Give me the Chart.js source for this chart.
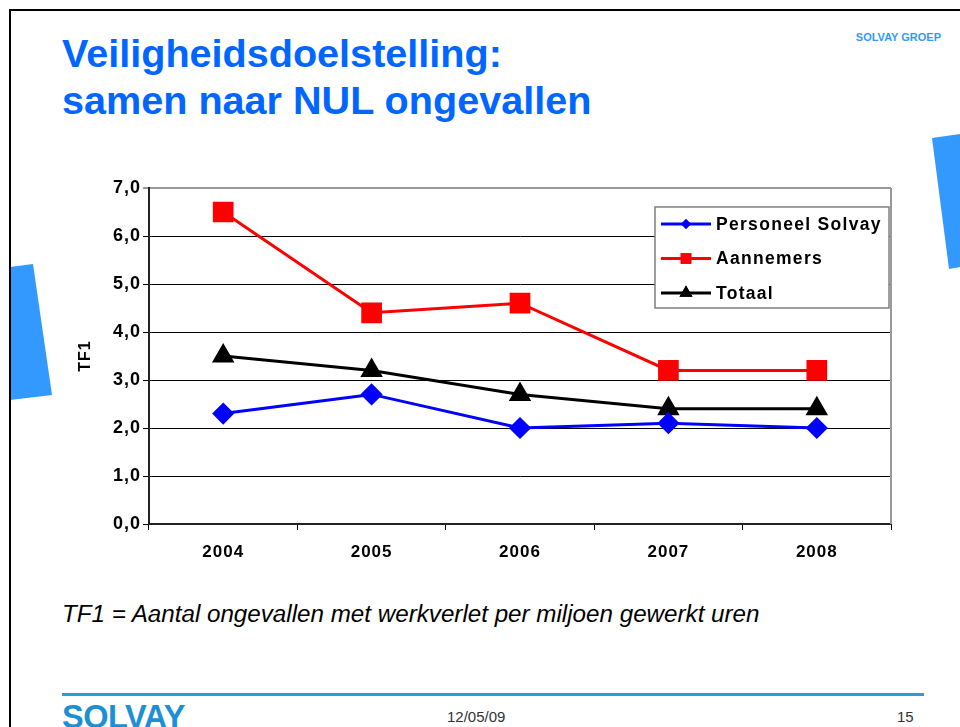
<!DOCTYPE html>
<html>
<head>
<meta charset="utf-8">
<script src="https://cdn.jsdelivr.net/npm/chart.js@4/dist/chart.umd.min.js"></script>
<style>
  html, body { margin: 0; padding: 0; background: #fff; }
  #page { position: relative; width: 960px; height: 727px; overflow: hidden; font-family: "Liberation Sans", Arial, sans-serif; }
  #page div { position: absolute; line-height: 1; white-space: nowrap; }
  #frameTop { left: 9px; top: 9px; width: 951px; height: 2px; background: #000; }
  #frameLeft { left: 9px; top: 9px; width: 2px; height: 718px; background: #000; }
  .title { left: 62px; font-size: 39.6px; font-weight: bold; color: #0066ff; }
  #groep { right: 19px; top: 32px; font-size: 11px; font-weight: bold; color: #3399ff; }
  #note { left: 62px; top: 602px; font-size: 24.2px; font-style: italic; color: #000; }
  #footLine { left: 62px; top: 693px; width: 862px; height: 3px; background: #2a9be0; }
  #logo { left: 62px; top: 701px; font-size: 32.5px; font-weight: bold; color: #1c8fd6; letter-spacing: -0.5px; }
  #date { left: 447px; top: 709px; font-size: 15px; color: #333; }
  #pnum { left: 897px; top: 709px; font-size: 15px; color: #333; }
  svg { position: absolute; left: 0; top: 0; }
  canvas { position: absolute; left: 0; top: 0; }
</style>
</head>
<body>
<div id="page">
  <svg width="960" height="727">
    <polygon points="932,138 960,134 960,267 949,269" fill="#3399ff"/>
    <polygon points="10,267 33,264 52,395 10,400" fill="#3399ff"/>
  </svg>
  <div id="frameTop"></div>
  <div id="frameLeft"></div>
  <div class="title" style="top:34px">Veiligheidsdoelstelling:</div>
  <div class="title" style="top:81px">samen naar NUL ongevallen</div>
  <div id="groep">SOLVAY GROEP</div>
  <div id="note">TF1 = Aantal ongevallen met werkverlet per miljoen gewerkt uren</div>
  <div id="footLine"></div>
  <div id="logo">SOLVAY</div>
  <div id="date">12/05/09</div>
  <div id="pnum">15</div>
  <canvas id="chart" width="960" height="727"></canvas>
</div>
<script>
// data
var years = ['2004', '2005', '2006', '2007', '2008'];
var personeelSolvay = [2.3, 2.7, 2.0, 2.1, 2.0];
var aannemers = [6.5, 4.4, 4.6, 3.2, 3.2];
var totaal = [3.5, 3.2, 2.7, 2.4, 2.4];
var yMin = 0, yMax = 7, yStep = 1;

var FONT = '"Liberation Sans", Arial, sans-serif';

// legend drawn inside the plot, boxed like the Excel one
var boxLegend = {
    id: 'boxLegend',
    afterDraw: function (chart) {
        var ctx = chart.ctx;
        var area = chart.chartArea;
        var x0 = area.right - 236, y0 = area.top + 19, w = 234, h = 101;
        ctx.save();
        ctx.letterSpacing = '1.3px';
        ctx.fillStyle = '#fff';
        ctx.fillRect(x0, y0, w, h);
        ctx.strokeStyle = '#808080';
        ctx.lineWidth = 1.5;
        ctx.strokeRect(x0, y0, w, h);
        var sizes = [5, 7.5, 7.5];
        chart.data.datasets.forEach(function (ds, i) {
            var y = y0 + 17 + i * 34.5;
            ctx.strokeStyle = ds.borderColor;
            ctx.lineWidth = 3;
            ctx.beginPath();
            ctx.moveTo(x0 + 6, y);
            ctx.lineTo(x0 + 56, y);
            ctx.stroke();
            ctx.fillStyle = ds.backgroundColor;
            Chart.helpers.drawPoint(ctx, {pointStyle: ds.pointStyle, radius: sizes[i], rotation: 0, borderWidth: 0}, x0 + 31, y);
            ctx.fill();
            ctx.fillStyle = '#000';
            ctx.font = 'bold 17.5px ' + FONT;
            ctx.textBaseline = 'middle';
            ctx.textAlign = 'left';
            ctx.fillText(ds.label, x0 + 61, y + 1);
        });
        ctx.restore();
    }
};

// gray plot border on the right, slightly spaced tick text
var plotFrame = {
    id: 'plotFrame',
    beforeDraw: function (chart) {
        chart.ctx.letterSpacing = '1px';
    },
    beforeDatasetsDraw: function (chart) {
        var ctx = chart.ctx;
        var area = chart.chartArea;
        ctx.save();
        ctx.strokeStyle = '#999';
        ctx.lineWidth = 2;
        ctx.beginPath();
        ctx.moveTo(area.right, area.top);
        ctx.lineTo(area.right, area.bottom);
        ctx.stroke();
        ctx.restore();
    }
};

var ctxL = document.getElementById('chart').getContext('2d');
var myLineChart = new Chart(ctxL, {
    type: 'line',
    data: {
        labels: years,
        datasets: [{
            label: 'Personeel Solvay',
            data: personeelSolvay,
            borderColor: '#0000ff',
            backgroundColor: '#0000ff',
            pointStyle: 'rectRot',
            pointRadius: 9,
            borderWidth: 3
        }, {
            label: 'Aannemers',
            data: aannemers,
            borderColor: '#ff0000',
            backgroundColor: '#ff0000',
            pointStyle: 'rect',
            pointRadius: 12.5,
            borderWidth: 3
        }, {
            label: 'Totaal',
            data: totaal,
            borderColor: '#000000',
            backgroundColor: '#000000',
            pointStyle: 'triangle',
            pointRadius: 10,
            borderWidth: 3
        }]
    },
    options: {
        responsive: false,
        devicePixelRatio: 1,
        animation: false,
        layout: {
            padding: {left: 60, top: 188, right: 69, bottom: 153}
        },
        elements: {
            line: {tension: 0},
            point: {borderWidth: 1}
        },
        plugins: {
            legend: {display: false},
            tooltip: {enabled: false}
        },
        scales: {
            x: {
                offset: true,
                grid: {
                    offset: true,
                    drawOnChartArea: false,
                    color: '#000',
                    tickLength: 6
                },
                border: {color: '#222', width: 2},
                ticks: {
                    color: '#000',
                    padding: 12,
                    font: {family: FONT, size: 17, weight: 'bold'}
                },
                afterFit: function (scale) {
                    scale.height = 50;
                }
            },
            y: {
                min: yMin,
                max: yMax,
                grid: {
                    color: function (c) {
                        return c.tick && c.tick.value === yMax ? '#999' : '#000';
                    },
                    lineWidth: function (c) {
                        return c.tick && c.tick.value === yMax ? 2 : 1;
                    },
                    tickLength: 6
                },
                border: {color: '#222', width: 2},
                ticks: {
                    stepSize: yStep,
                    color: '#000',
                    padding: 2,
                    font: {family: FONT, size: 18, weight: 'bold'},
                    callback: function (v) {
                        return v.toFixed(1).replace('.', ',');
                    }
                },
                title: {
                    display: true,
                    text: 'TF1',
                    color: '#000',
                    padding: {top: 16, bottom: 0},
                    font: {family: FONT, size: 16, weight: 'bold'}
                },
                afterFit: function (scale) {
                    scale.width = 89;
                }
            }
        }
    },
    plugins: [plotFrame, boxLegend]
});
</script>
</body>
</html>
